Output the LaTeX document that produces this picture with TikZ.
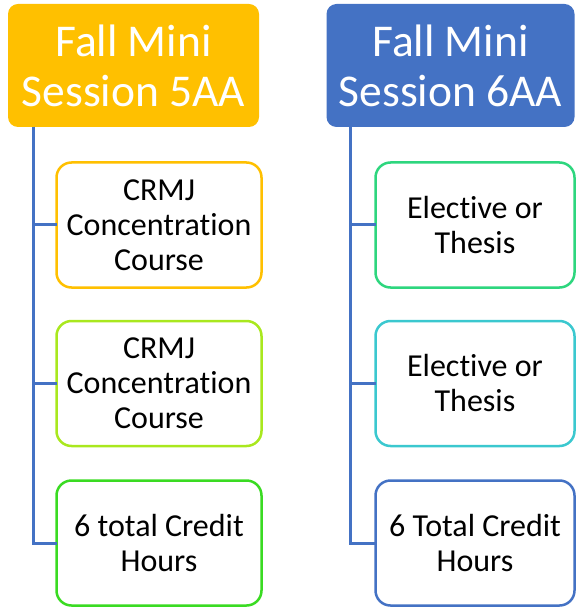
\documentclass[tikz,border=0pt]{standalone}
\usepackage{fontspec}
\setmainfont{Carlito}[Ligatures={NoCommon}]
\definecolor{hdrorange}{HTML}{FFC000}
\definecolor{hdrblue}{HTML}{4472C4}
\definecolor{limegrn}{HTML}{A9E81E}
\definecolor{brightgrn}{HTML}{3ADB22}
\definecolor{seagrn}{HTML}{2ED67E}
\definecolor{tealc}{HTML}{3BC8CF}
\tikzset{
  header/.style={rounded corners=10pt, inner sep=0pt, outer sep=0pt,
    minimum height=123pt, text=white, align=center,
    font=\fontsize{45.5}{50}\selectfont},
  course/.style={draw, line width=2.5pt, rounded corners=15pt, fill=white,
    inner sep=0pt, outer sep=0pt, minimum height=125pt, align=center,
    font=\fontsize{32}{35}\selectfont},
  conn/.style={draw=hdrblue, line width=3pt}
}
\begin{document}
\begin{tikzpicture}[x=1pt, y=-1pt]
    \useasboundingbox (0,0) rectangle (576,609);

    % the two session headers
    \node[header, fill=hdrorange, minimum width=251pt] (hdrA) at (133.5,65.5) {Fall Mini\\Session 5AA};
    \node[header, fill=hdrblue, minimum width=248pt] (hdrB) at (450.5,65.5) {Fall Mini\\Session 6AA};

    % the spines under the headers
    \coordinate (spA) at (33,127);
    \coordinate (spB) at (350,127);

    % the courses of session 5AA
    \node[course, draw=hdrorange, minimum width=205pt] (crsA1) at (159,225) {CRMJ\\Concentration\\Course};
    \node[course, draw=limegrn, minimum width=205pt] (crsA2) at (159,383.5) {CRMJ\\Concentration\\Course};
    \node[course, draw=brightgrn, minimum width=205pt] (hrsA) at (159,543) {6 total Credit\\Hours};

    % the courses of session 6AA
    \node[course, draw=seagrn, minimum width=199pt] (elecB1) at (475,225) {Elective or\\Thesis};
    \node[course, draw=tealc, minimum width=199pt] (elecB2) at (475,383.5) {Elective or\\Thesis};
    \node[course, draw=hdrblue, minimum width=199pt] (hrsB) at (475,543) {6 Total Credit\\Hours};

    % connectors
    \draw[conn] (spA) |- (crsA1.west);
    \draw[conn] (spA) |- (crsA2.west);
    \draw[conn] (spA) |- (hrsA.west);
    \draw[conn] (spB) |- (elecB1.west);
    \draw[conn] (spB) |- (elecB2.west);
    \draw[conn] (spB) |- (hrsB.west);
\end{tikzpicture}
\end{document}
